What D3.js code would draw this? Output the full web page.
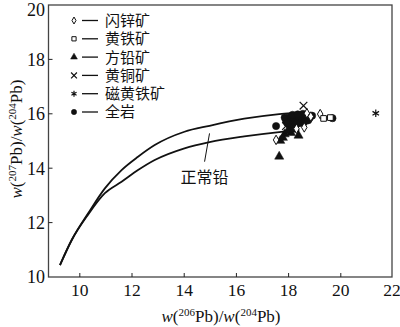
<!DOCTYPE html>
<html><head><meta charset="utf-8">
<script src="https://cdn.jsdelivr.net/npm/d3@7"></script>
<style>body{margin:0;background:#fff}svg{display:block}</style>
</head><body>
<svg id="c" width="400" height="327"></svg>
<script>
const xTicks=[10,12,14,16,18,20,22];
const yTicks=[10,12,14,16,18,20];
const seriesNames=["闪锌矿","黄铁矿","方铅矿","黄铜矿","磁黄铁矿","全岩"];
const sphalerite=[[18.7,16.02],[19.21,15.99],[17.52,15.04],[18.6,15.5],[18.3,15.45],[18.85,15.9]];
const pyrite=[[19.34,15.83],[19.6,15.86]];
const galena=[[17.64,14.43],[17.68,15.01],[18.38,15.2],[18.09,15.3],[17.85,15.25],[17.97,15.38],[18.2,15.42],[17.78,15.12]];
const chalcopyrite=[[18.57,16.3],[17.9,15.55],[18.1,15.68]];
const pyrrhotite=[[21.34,16.02],[18.45,15.72]];
const wholeRock=[[17.52,15.55],[19.68,15.84],[17.9,15.75],[18.0,15.86],[18.1,15.72],[18.2,15.82],[18.3,15.9],[18.4,15.76],[18.5,15.86],[18.6,15.8],[18.7,15.9],[18.8,15.84],[18.9,15.93],[18.3,15.62],[18.45,15.66],[18.6,15.7],[18.75,15.76],[18.05,15.56],[18.2,15.52],[17.85,15.86],[18.15,15.96],[18.55,16.0],[18.35,15.98],[17.95,15.65],[18.65,15.96]];
const upperCurve=[[9.24,10.44],[9.69,11.36],[10.32,12.34],[10.96,13.26],[11.6,13.93],[12.23,14.42],[12.87,14.85],[14.01,15.34],[14.97,15.56],[16.3,15.82],[17.64,15.99],[18.71,16.07]];
const lowerCurve=[[9.24,10.44],[9.69,11.36],[10.32,12.3],[10.96,13.08],[11.6,13.5],[12.23,13.93],[12.87,14.3],[14.01,14.73],[14.97,14.96],[16.3,15.17],[17.64,15.33],[18.41,15.4]];
const curveLabel="正常铅";
const labelPointer=[[14.97,15.28],[14.78,14.24]];
const labelPos=[14.78,13.45];

const svg=d3.select("#c");
const L=48.5,R=392,T=5,B=277;
const x=d3.scaleLinear().domain([8.8,22]).range([L,R+1]);
const y=d3.scaleLinear().domain([10,20]).range([B,T]);
const serif="'Liberation Serif','Times New Roman',serif";
const cjk="'Noto Sans CJK SC','Noto Sans CJK JP',sans-serif";

// frame
svg.append("rect").attr("x",L).attr("y",T).attr("width",R-L).attr("height",B-T)
  .attr("fill","none").attr("stroke","#444").attr("stroke-width",1.3);

// ticks
const g=svg.append("g");
xTicks.filter(t=>t>10-0.01&&t<21).forEach(t=>{
  g.append("line").attr("x1",x(t)).attr("x2",x(t)).attr("y1",B).attr("y2",B-4).attr("stroke","#222").attr("stroke-width",1);
});
xTicks.forEach(t=>{
  g.append("text").attr("x",Math.min(x(t),R)).attr("y",296).attr("text-anchor","middle")
   .attr("font-family",serif).attr("font-size",17.5).attr("fill","#111").text(t);
});
yTicks.forEach(t=>{
  if(t>10&&t<20) g.append("line").attr("x1",L).attr("x2",L+4).attr("y1",y(t)).attr("y2",y(t)).attr("stroke","#222").attr("stroke-width",1);
  g.append("text").attr("x",45).attr("y",Math.max(y(t),9.5)).attr("dy","0.35em").attr("text-anchor","end")
   .attr("font-family",serif).attr("font-size",18).attr("fill","#111").text(t);
});

// axis titles
const xt=svg.append("text").attr("x",221).attr("y",322).attr("text-anchor","middle")
  .attr("font-family",serif).attr("font-size",17).attr("fill","#111");
xt.append("tspan").attr("font-style","italic").text("w");
xt.append("tspan").text("(");
xt.append("tspan").attr("font-size",11).attr("dy",-6).text("206");
xt.append("tspan").attr("dy",6).text("Pb)/");
xt.append("tspan").attr("font-style","italic").text("w");
xt.append("tspan").text("(");
xt.append("tspan").attr("font-size",11).attr("dy",-6).text("204");
xt.append("tspan").attr("dy",6).text("Pb)");

const yt=svg.append("text").attr("transform","translate(22,139) rotate(-90)").attr("text-anchor","middle")
  .attr("font-family",serif).attr("font-size",17).attr("fill","#111");
yt.append("tspan").attr("font-style","italic").text("w");
yt.append("tspan").text("(");
yt.append("tspan").attr("font-size",11).attr("dy",-6).text("207");
yt.append("tspan").attr("dy",6).text("Pb)/");
yt.append("tspan").attr("font-style","italic").text("w");
yt.append("tspan").text("(");
yt.append("tspan").attr("font-size",11).attr("dy",-6).text("204");
yt.append("tspan").attr("dy",6).text("Pb)");

// curves
const line=d3.line().x(d=>x(d[0])).y(d=>y(d[1])).curve(d3.curveMonotoneX);
[upperCurve,lowerCurve].forEach(c=>{
  svg.append("path").attr("d",line(c)).attr("fill","none").attr("stroke","#111").attr("stroke-width",1.8);
});
svg.append("line").attr("x1",x(labelPointer[0][0])).attr("y1",y(labelPointer[0][1]))
  .attr("x2",x(labelPointer[1][0])).attr("y2",y(labelPointer[1][1])).attr("stroke","#111").attr("stroke-width",1);
svg.append("text").attr("x",x(labelPos[0])).attr("y",y(labelPos[1])).attr("text-anchor","middle")
  .attr("font-family",cjk).attr("font-size",16).attr("fill","#111").text(curveLabel);

// markers
const styles=[
  {type:d3.symbolDiamond,size:26,fill:"#fff",stroke:"#111",sw:1,lsize:14},
  {type:d3.symbolSquare,size:32,fill:"#fff",stroke:"#111",sw:1,lsize:18},
  {type:d3.symbolTriangle,size:36,fill:"#111",stroke:"#111",sw:0.5,lsize:20},
  {type:d3.symbolX,size:40,fill:"none",stroke:"#111",sw:1.2,lsize:24},
  {type:d3.symbolAsterisk,size:40,fill:"none",stroke:"#111",sw:1.2,lsize:24},
  {type:d3.symbolCircle,size:42,fill:"#111",stroke:"#111",sw:0.5,lsize:22}
];
const allData=[sphalerite,pyrite,galena,chalcopyrite,pyrrhotite,wholeRock];
const drawOrder=[5,2,0,1,3,4];
drawOrder.forEach(i=>{
  const s=styles[i];
  svg.append("g").selectAll("path").data(allData[i]).join("path")
    .attr("transform",d=>`translate(${x(d[0])},${y(d[1])})`)
    .attr("d",d3.symbol().type(s.type).size(s.size))
    .attr("fill",s.fill).attr("stroke",s.stroke).attr("stroke-width",s.sw);
});

// legend
const lg=svg.append("g");
seriesNames.forEach((n,i)=>{
  const yy=20.5+i*18.3; const s=styles[i];
  lg.append("path").attr("transform",`translate(74,${yy})`).attr("d",d3.symbol().type(s.type).size(s.lsize))
    .attr("fill",s.fill).attr("stroke",s.stroke).attr("stroke-width",s.sw);
  lg.append("line").attr("x1",82).attr("x2",98).attr("y1",yy).attr("y2",yy).attr("stroke","#111").attr("stroke-width",1.3);
  lg.append("text").attr("x",105).attr("y",yy).attr("dy","0.36em").attr("font-family",cjk)
    .attr("font-size",15).attr("fill","#111").text(n);
});
</script>
</body></html>
